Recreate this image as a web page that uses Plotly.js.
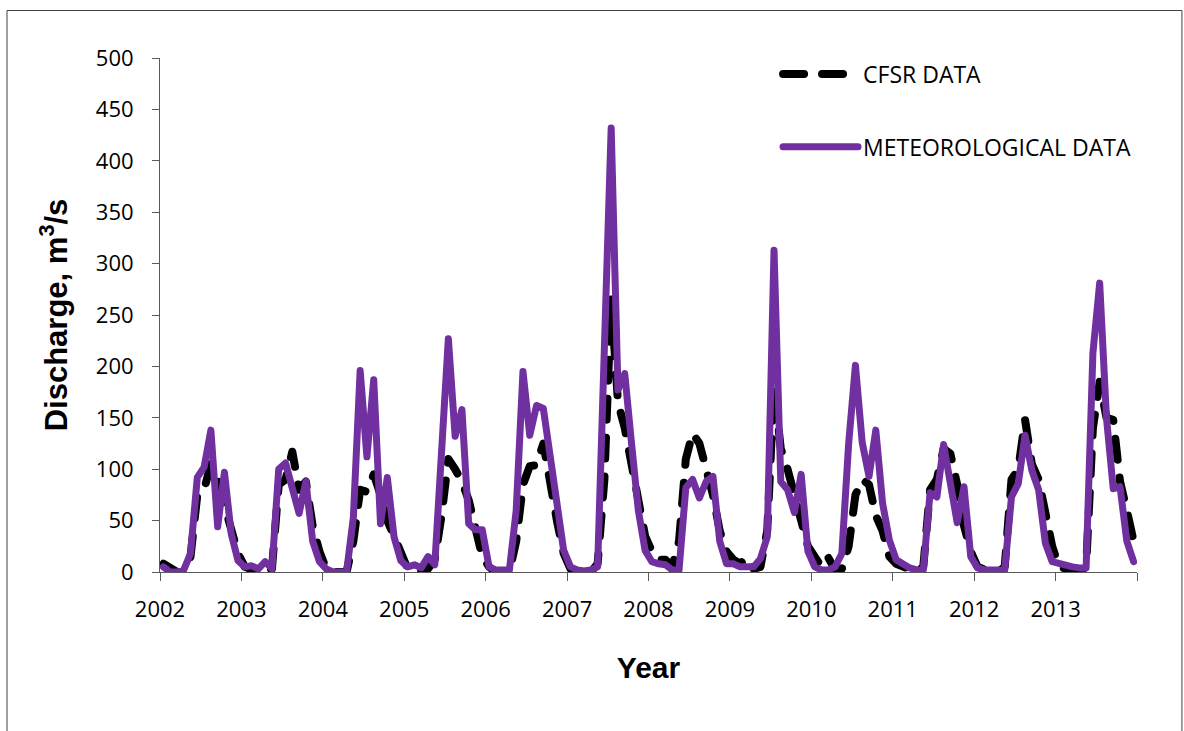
<!DOCTYPE html>
<html>
<head>
<meta charset="utf-8">
<script src="https://cdn.plot.ly/plotly-3.0.1.min.js"></script>
<style>
  html, body { margin: 0; padding: 0; background: #ffffff; }
  #chart { width: 1184px; height: 731px; }
  .scatterlayer .js-line, .legendlines .js-line { stroke-linejoin: round; stroke-linecap: round; }
</style>
</head>
<body>
<div id="chart"></div>
<script>
// Years shown on the x axis (monthly values, Jan 2002 - Dec 2013)
const years = [2002, 2003, 2004, 2005, 2006, 2007, 2008, 2009, 2010, 2011, 2012, 2013];
const tickLabels = ["2002", "2003", "2004", "2005", "2006", "2007", "2008", "2009", "2010", "2011", "2012", "2013"];
const axisEndYear = [2014];

// Monthly discharge (m3/s), CFSR-driven simulation
const cfsr = [
  8, 3, 0, 0, 15, 75, 80, 105, 90, 65, 40, 18,        // 2002
  5, 2, 0, 0, 3, 85, 90, 117, 80, 88, 45, 20,         // 2003
  3, 0, 0, 0, 30, 80, 78, 95, 75, 50, 35, 20,         // 2004
  3, 0, 0, 3, 12, 55, 110, 100, 88, 70, 40, 15,       // 2005
  5, 0, 0, 0, 30, 85, 103, 104, 125, 85, 50, 18,      // 2006
  3, 0, 0, 0, 8, 90, 265, 165, 140, 105, 65, 35,      // 2007
  20, 12, 12, 5, 30, 110, 135, 125, 100, 75, 40, 20,  // 2008
  12, 8, 14, 3, 5, 40, 180, 120, 100, 75, 45, 25,     // 2009
  15, 5, 14, 2, 3, 25, 75, 90, 85, 55, 40, 15,        // 2010
  8, 5, 2, 0, 5, 80, 90, 120, 115, 85, 45, 20,        // 2011
  5, 2, 0, 0, 5, 90, 100, 148, 105, 90, 55, 25,       // 2012
  5, 3, 0, 0, 5, 140, 185, 150, 148, 88, 60, 30       // 2013
];

// Monthly discharge (m3/s), meteorological-station-driven simulation
const meteo = [
  5, 0, 0, 2, 18, 92, 102, 138, 44, 97, 37, 11,       // 2002
  5, 6, 3, 10, 3, 100, 106, 81, 57, 88, 30, 10,       // 2003
  3, 0, 0, 0, 53, 196, 112, 187, 47, 92, 34, 11,      // 2004
  5, 7, 4, 15, 7, 117, 227, 132, 158, 47, 41, 41,     // 2005
  5, 2, 2, 2, 60, 195, 133, 162, 159, 115, 63, 21,    // 2006
  5, 2, 1, 2, 5, 215, 432, 177, 193, 125, 60, 21,     // 2007
  10, 8, 7, 2, 2, 82, 90, 72, 88, 93, 30, 8,          // 2008
  8, 5, 5, 5, 13, 34, 313, 88, 80, 58, 95, 20,        // 2009
  5, 2, 2, 5, 18, 125, 201, 126, 93, 138, 67, 31,     // 2010
  12, 7, 4, 2, 2, 77, 73, 124, 85, 48, 83, 15,        // 2011
  4, 2, 2, 2, 2, 73, 86, 133, 99, 80, 28, 10,         // 2012
  8, 7, 5, 4, 4, 213, 281, 150, 81, 83, 30, 10        // 2013
];

// x position of each monthly value: middle of the month, in decimal years
const monthX = [];
years.forEach(y => { for (let m = 0; m < 12; m++) monthX.push(y + (m + 0.5) / 12); });

const tickFont = { family: "Open Sans, sans-serif", size: 22, color: "#000000" };
const titleFont = { family: "Liberation Sans, Arial, sans-serif", size: 30, color: "#000000", weight: "bold" };

const traces = [
  {
    type: "scatter", mode: "lines", name: "CFSR DATA",
    x: monthX, y: cfsr, legendgroup: "a",
    line: { color: "#000000", width: 8, dash: "21px,18px" },
    hoverinfo: "x+y"
  },
  {
    type: "scatter", mode: "lines", name: "METEOROLOGICAL DATA",
    x: monthX, y: meteo, legendgroup: "b",
    line: { color: "#7030A0", width: 7 },
    hoverinfo: "x+y"
  }
];

const layout = {
  width: 1184, height: 731,
  margin: { l: 160, r: 47, t: 58, b: 159 },
  paper_bgcolor: "#ffffff", plot_bgcolor: "#ffffff",
  showlegend: true,
  legend: {
    x: 0.6326, xanchor: "left", y: 1.0107, yanchor: "top",
    font: { family: "Open Sans, sans-serif", size: 23, color: "#000000" },
    traceorder: "grouped", tracegroupgap: 40, itemwidth: 75,
    bgcolor: "rgba(0,0,0,0)"
  },
  xaxis: {
    range: [2002, 2014], tickmode: "array", tickvals: years, ticktext: tickLabels,
    showgrid: false, zeroline: false, showline: true, linecolor: "#595959", linewidth: 1,
    ticks: "outside", ticklen: 8, tickcolor: "#595959", tickwidth: 1,
    minor: { tickmode: "array", tickvals: axisEndYear, ticks: "outside", ticklen: 8, tickcolor: "#595959", tickwidth: 1, showgrid: false },
    tickfont: tickFont, ticklabelstandoff: 10,
    title: { text: "Year", font: titleFont, standoff: 34 }
  },
  yaxis: {
    range: [0, 500], dtick: 50, tick0: 0,
    showgrid: false, zeroline: false, showline: true, linecolor: "#595959", linewidth: 1,
    ticks: "outside", ticklen: 7, tickcolor: "#595959", tickwidth: 1,
    tickfont: tickFont, ticklabelstandoff: 14,
    title: { text: "\u00a0\u00a0\u00a0\u00a0Discharge, m<sup>3</sup>/s", font: Object.assign({}, titleFont, { size: 31 }), standoff: 18 }
  },
  shapes: [
    { type: "rect", xref: "paper", yref: "paper", x0: -0.1566, x1: 1.046, y0: -0.32, y1: 1.0924,
      line: { color: "#404040", width: 1 }, fillcolor: "rgba(0,0,0,0)", layer: "below" }
  ]
};

Plotly.newPlot("chart", traces, layout, { displayModeBar: false });
</script>
</body>
</html>
